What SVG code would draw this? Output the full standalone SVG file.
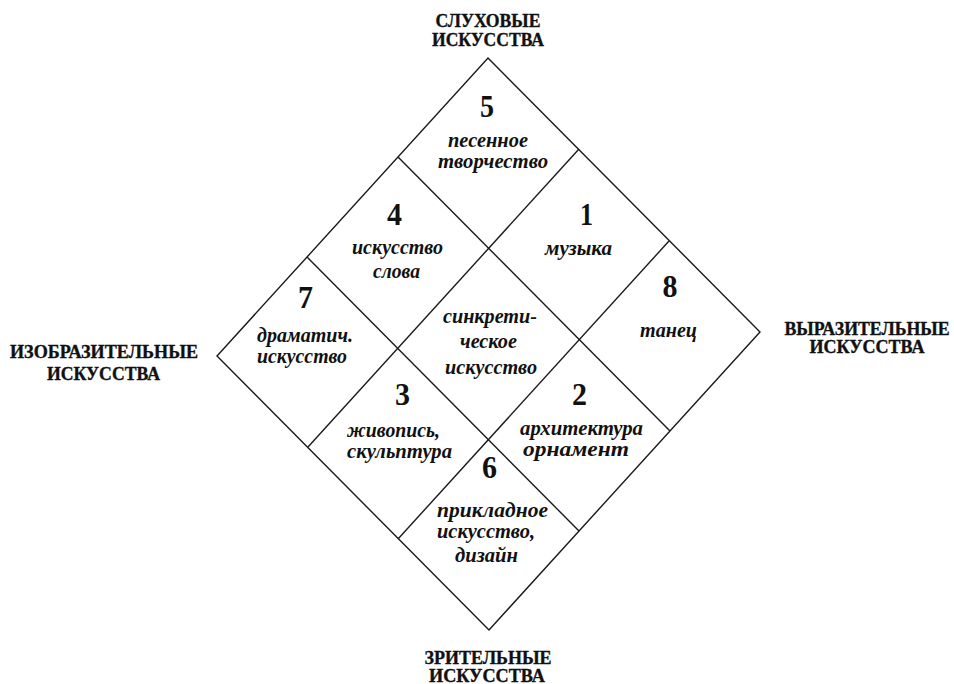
<svg xmlns="http://www.w3.org/2000/svg" width="954" height="684" viewBox="0 0 954 684">
<style>
.ln{fill:none;stroke:#1a1a1a;stroke-width:1.4;stroke-linejoin:miter}
.lab{font-family:"Liberation Serif","Times New Roman",serif;font-weight:bold;font-size:18px;fill:#111;text-anchor:middle;stroke:#111;stroke-width:0.35}
.num{font-family:"Liberation Serif","Times New Roman",serif;font-weight:bold;font-size:32px;fill:#111;text-anchor:middle}
.txt{font-family:"Liberation Serif","Times New Roman",serif;font-weight:bold;font-style:italic;font-size:21px;fill:#111;text-anchor:middle}
</style>
<rect width="954" height="684" fill="#fff"/>
<g id="connectors">
<polygon class="ln" points="488,58 760,332 489,630 217,356"/>
<line class="ln" x1="579" y1="149" x2="308" y2="447"/>
<line class="ln" x1="669" y1="241" x2="398" y2="539"/>
<line class="ln" x1="398" y1="157" x2="670" y2="431"/>
<line class="ln" x1="307" y1="257" x2="579" y2="531"/>
</g>
<g id="label-top">
<text class="lab" x="488" y="27" textLength="105" lengthAdjust="spacingAndGlyphs">СЛУХОВЫЕ</text>
<text class="lab" x="488" y="46" textLength="112" lengthAdjust="spacingAndGlyphs">ИСКУССТВА</text>
</g>
<g id="label-bottom">
<text class="lab" x="488" y="664" textLength="127" lengthAdjust="spacingAndGlyphs">ЗРИТЕЛЬНЫЕ</text>
<text class="lab" x="487" y="682" textLength="116" lengthAdjust="spacingAndGlyphs">ИСКУССТВА</text>
</g>
<g id="label-left">
<text class="lab" x="104" y="358" textLength="188" lengthAdjust="spacingAndGlyphs">ИЗОБРАЗИТЕЛЬНЫЕ</text>
<text class="lab" x="103.5" y="380" textLength="113" lengthAdjust="spacingAndGlyphs">ИСКУССТВА</text>
</g>
<g id="label-right">
<text class="lab" x="867" y="335" textLength="165" lengthAdjust="spacingAndGlyphs">ВЫРАЗИТЕЛЬНЫЕ</text>
<text class="lab" x="867" y="353" textLength="115" lengthAdjust="spacingAndGlyphs">ИСКУССТВА</text>
</g>
<g id="cell-5">
<text class="num" x="487" y="117" textLength="14" lengthAdjust="spacingAndGlyphs">5</text>
<text class="txt" x="488" y="147" textLength="80" lengthAdjust="spacingAndGlyphs">песенное</text>
<text class="txt" x="493" y="168" textLength="110" lengthAdjust="spacingAndGlyphs">творчество</text>
</g>
<g id="cell-4">
<text class="num" x="394.5" y="225" textLength="15" lengthAdjust="spacingAndGlyphs">4</text>
<text class="txt" x="397.5" y="254" textLength="91" lengthAdjust="spacingAndGlyphs">искусство</text>
<text class="txt" x="396.5" y="278" textLength="47" lengthAdjust="spacingAndGlyphs">слова</text>
</g>
<g id="cell-1">
<text class="num" x="586.5" y="225" textLength="13" lengthAdjust="spacingAndGlyphs">1</text>
<text class="txt" x="578.5" y="255" textLength="67" lengthAdjust="spacingAndGlyphs">музыка</text>
</g>
<g id="cell-7">
<text class="num" x="305.5" y="308" textLength="15" lengthAdjust="spacingAndGlyphs">7</text>
<text class="txt" x="305" y="342" textLength="96" lengthAdjust="spacingAndGlyphs">драматич.</text>
<text class="txt" x="302" y="363" textLength="90" lengthAdjust="spacingAndGlyphs">искусство</text>
</g>
<g id="cell-center">
<text class="txt" x="490" y="323" textLength="94" lengthAdjust="spacingAndGlyphs">синкрети-</text>
<text class="txt" x="488.5" y="348" textLength="57" lengthAdjust="spacingAndGlyphs">ческое</text>
<text class="txt" x="491" y="374" textLength="92" lengthAdjust="spacingAndGlyphs">искусство</text>
</g>
<g id="cell-8">
<text class="num" x="670" y="297" textLength="15" lengthAdjust="spacingAndGlyphs">8</text>
<text class="txt" x="668.5" y="337" textLength="57" lengthAdjust="spacingAndGlyphs">танец</text>
</g>
<g id="cell-3">
<text class="num" x="402.5" y="405" textLength="15" lengthAdjust="spacingAndGlyphs">3</text>
<text class="txt" x="393.5" y="437" textLength="93" lengthAdjust="spacingAndGlyphs">живопись,</text>
<text class="txt" x="399.5" y="458" textLength="105" lengthAdjust="spacingAndGlyphs">скульптура</text>
</g>
<g id="cell-2">
<text class="num" x="579.5" y="405" textLength="15" lengthAdjust="spacingAndGlyphs">2</text>
<text class="txt" x="581.5" y="435" textLength="123" lengthAdjust="spacingAndGlyphs">архитектура</text>
<text class="txt" x="576" y="456" textLength="106" lengthAdjust="spacingAndGlyphs">орнамент</text>
</g>
<g id="cell-6">
<text class="num" x="489.5" y="478" textLength="15" lengthAdjust="spacingAndGlyphs">6</text>
<text class="txt" x="492.5" y="517" textLength="111" lengthAdjust="spacingAndGlyphs">прикладное</text>
<text class="txt" x="486" y="538" textLength="98" lengthAdjust="spacingAndGlyphs">искусство,</text>
<text class="txt" x="486.5" y="562" textLength="63" lengthAdjust="spacingAndGlyphs">дизайн</text>
</g>
</svg>
